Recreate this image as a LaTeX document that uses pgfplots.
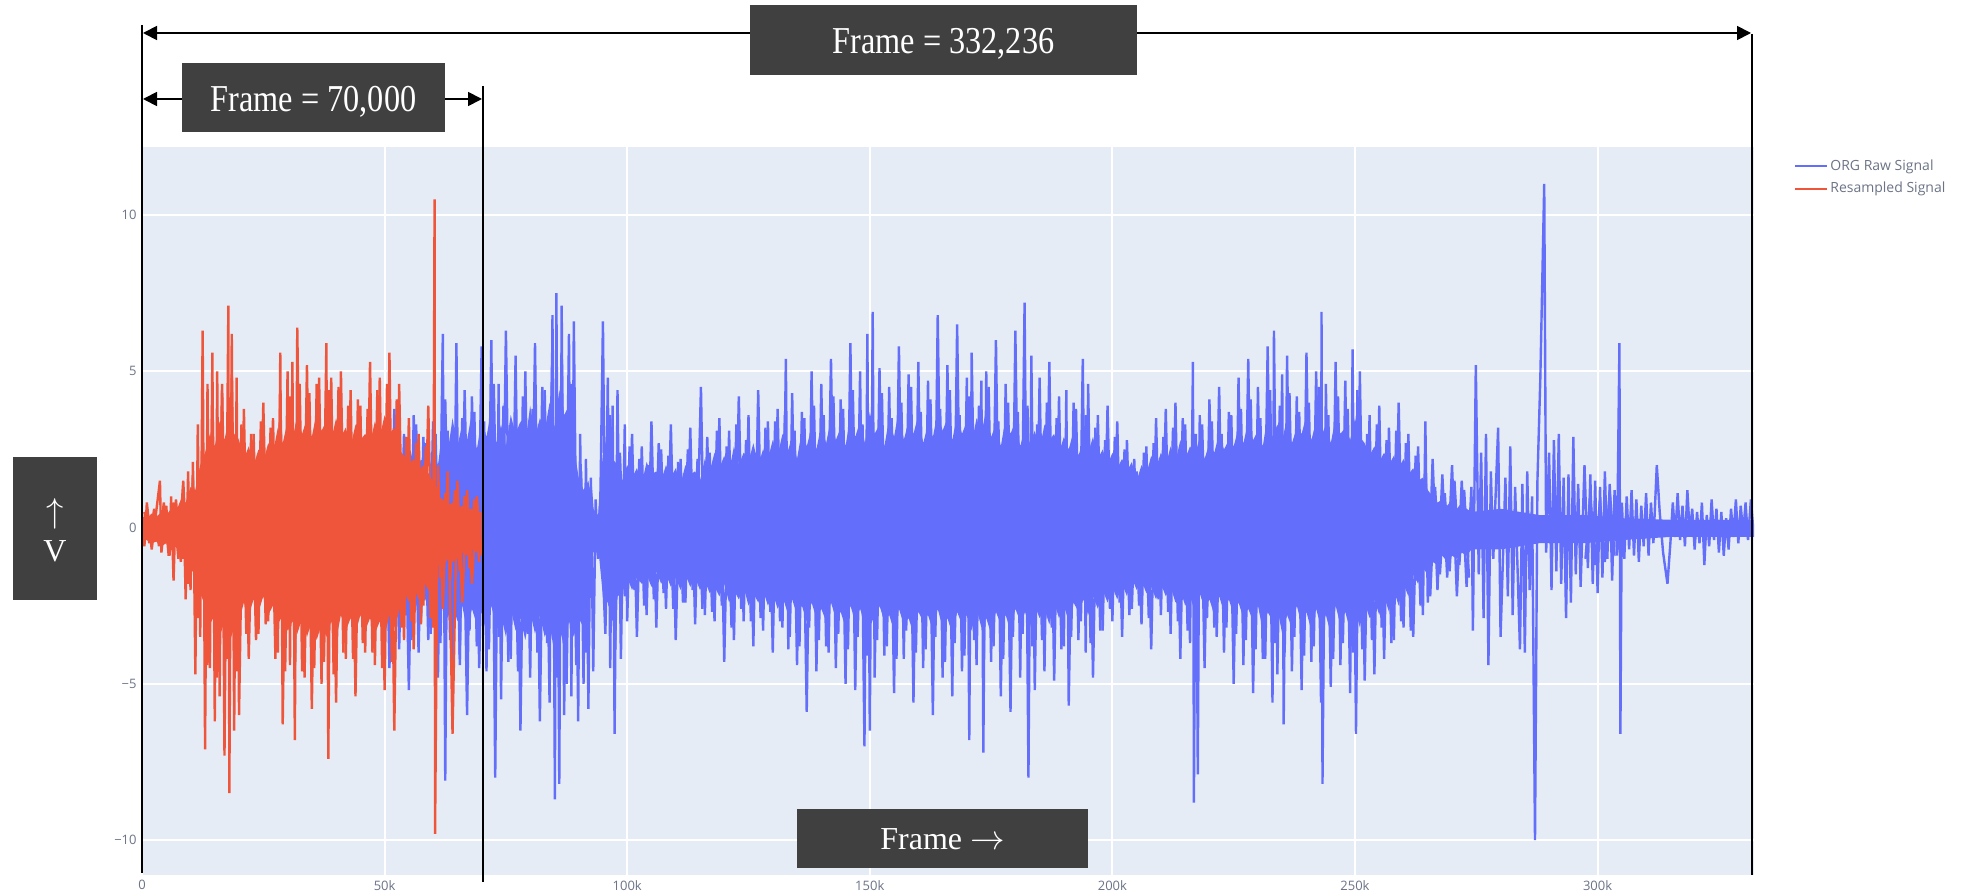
\documentclass[border=0pt]{standalone}
\usepackage{graphicx}
\usepackage{pgfplots}
\pgfplotsset{compat=1.18}
\usepackage{fontspec}
\setmainfont{Liberation Serif}
\newfontfamily\tickfont{Open Sans}
\usetikzlibrary{arrows.meta}
\definecolor{plotbg}{HTML}{E5ECF6}
\definecolor{sigblue}{HTML}{636EFA}
\definecolor{sigred}{HTML}{EF553B}
\definecolor{boxgray}{HTML}{404040}
\definecolor{tickgray}{HTML}{6B7385}
\begin{document}
\begin{tikzpicture}
\path[use as bounding box] (0,0) rectangle (986pt,-446.5pt);
\begin{axis}[
  at={(71pt,-437.5pt)}, anchor=south west,
  scale only axis, width=806pt, height=364pt,
  xmin=0, xmax=332.236, ymin=-11.12, ymax=12.18,
  axis background/.style={fill=plotbg},
  axis line style={draw=none},
  major tick length=0pt,
  grid=major, major grid style={white, line width=1pt},
  xtick={0,50,100,150,200,250,300},
  xticklabels={0,50k,100k,150k,200k,250k,300k},
  ytick={-10,-5,0,5,10},
  yticklabels={−10,−5,0,5,10},
  tick label style={font=\tickfont\fontsize{6.5}{7}\selectfont, text=tickgray},
  xticklabel style={anchor=north, inner sep=0pt, yshift=-2.5pt},
  yticklabel style={anchor=east, inner sep=0pt, xshift=-2.5pt},
  legend style={at={(1.0248,0.986)}, anchor=north west, draw=none, fill=none,
    inner sep=0pt, row sep=2.5pt,
    font=\tickfont\fontsize{7}{8}\selectfont, text=tickgray,
    nodes={inner sep=1pt}},
  legend cell align=left,
  legend image code/.code={\draw[#1,line width=1pt] (0pt,0pt) -- (16pt,0pt);},
  sig/.style={line width=1.2pt, line join=bevel},
]
% blue dense core
\addplot[fill=sigblue, draw=none, forget plot] coordinates {
(50,2.4)(51,1.8)(52,2.6)(53,2.0)(54,2.3)(55,1.9)(56,2.7)(57,2.1)(58,2.2)(59,1.7)(60,2.5)(61,2.0)(62,3.2)(63,2.4)(64,3.5)(65,2.6)(66,3.3)(67,2.8)(68,3.7)(69,2.5)
(70,3.4)(71,2.9)(72,3.8)(73,2.7)(74,3.3)(75,2.6)(76,3.6)(77,3.0)(78,3.4)(79,2.7)(80,3.9)(81,2.9)(82,3.5)(83,3.1)(84,4.0)(85,3.2)(86,4.4)(87,3.6)(88,3.9)(89,2.6)
(90,1.6)(91,1.2)(92,1.5)(93,0.6)(94,0.4)(95,2.4)(96,3.0)(97,2.2)(98,2.0)(99,1.5)(100,2.0)(101,1.6)(102,1.9)(103,1.4)(104,2.1)(105,1.7)(106,1.8)(107,1.5)(108,2.0)(109,1.6)
(110,1.9)(111,1.4)(112,2.0)(113,1.7)(114,1.8)(115,1.5)(116,2.2)(117,1.8)(118,2.4)(119,1.9)(120,2.3)(121,1.8)(122,2.6)(123,2.0)(124,2.4)(125,2.1)(126,2.7)(127,2.0)(128,2.5)(129,2.2)
(130,2.8)(131,2.3)(132,3.0)(133,2.4)(134,2.9)(135,2.2)(136,3.1)(137,2.6)(138,3.2)(139,2.5)(140,3.3)(141,2.7)(142,3.5)(143,2.8)(144,3.2)(145,2.6)(146,3.6)(147,2.9)(148,3.4)(149,2.7)
(150,3.7)(151,3.0)(152,3.3)(153,2.6)(154,3.5)(155,2.9)(156,3.8)(157,2.8)(158,3.4)(159,3.0)(160,3.6)(161,2.7)(162,3.3)(163,2.9)(164,3.7)(165,3.1)(166,3.5)(167,2.8)(168,3.6)(169,3.0)
(170,3.4)(171,2.7)(172,3.5)(173,3.0)(174,3.8)(175,2.9)(176,3.3)(177,2.6)(178,3.5)(179,3.0)(180,3.4)(181,2.6)(182,3.2)(183,2.7)(184,3.1)(185,2.5)(186,3.3)(187,2.8)(188,3.0)(189,2.4)
(190,2.9)(191,2.5)(192,3.1)(193,2.3)(194,2.8)(195,2.4)(196,2.9)(197,2.2)(198,2.5)(199,2.0)(200,2.4)(201,1.9)(202,2.2)(203,1.8)(204,2.1)(205,1.5)(206,2.0)(207,1.7)(208,2.3)(209,1.9)
(210,2.4)(211,2.0)(212,2.6)(213,2.1)(214,2.8)(215,2.2)(216,2.6)(217,2.3)(218,2.9)(219,2.2)(220,2.7)(221,2.4)(222,3.0)(223,2.5)(224,2.8)(225,2.6)(226,3.2)(227,2.7)(228,3.4)(229,2.8)
(230,3.1)(231,2.6)(232,3.6)(233,2.9)(234,3.3)(235,2.8)(236,3.5)(237,2.7)(238,3.2)(239,3.0)(240,3.6)(241,2.8)(242,3.4)(243,2.9)(244,3.3)(245,2.7)(246,3.5)(247,3.0)(248,3.2)(249,2.8)
(250,3.5)(251,2.9)(252,2.7)(253,2.3)(254,2.6)(255,2.1)(256,2.4)(257,2.0)(258,2.3)(259,1.9)(260,2.2)(261,1.7)(262,1.9)(263,1.5)(264,1.6)(265,1.2)(266,1.0)(267,0.8)(268,0.9)(269,0.7)
(270,0.9)(271,0.6)(272,0.8)(273,0.6)(274,0.5)(280,0.6)(288,0.4)(297,0.4)(305,0.3)(315,0.25)(332.2,0.25)
(332.2,-0.3)(315,-0.3)(305,-0.4)(297,-0.5)(288,-0.5)(280,-0.7)
(274,-0.7)(273,-0.9)(272,-0.8)(271,-1.0)(270,-0.9)(269,-1.1)(268,-0.9)(267,-1.2)(266,-1.1)(265,-1.5)(264,-1.3)(263,-1.8)(262,-1.5)(261,-2.2)(260,-1.8)(259,-2.5)(258,-2.0)(257,-2.7)(256,-2.2)(255,-2.8)
(254,-2.3)(253,-2.9)(252,-2.4)(251,-3.2)(250,-2.6)(249,-3.3)(248,-2.7)(247,-3.1)(246,-2.5)(245,-3.4)(244,-2.8)(243,-3.2)(242,-2.6)(241,-3.3)(240,-2.7)(239,-3.1)(238,-2.5)(237,-3.2)(236,-2.8)(235,-3.4)
(234,-2.6)(233,-3.0)(232,-2.7)(231,-3.3)(230,-2.5)(229,-3.0)(228,-2.6)(227,-2.9)(226,-2.4)(225,-2.8)(224,-2.3)(223,-2.7)(222,-2.2)(221,-2.8)(220,-2.3)(219,-2.6)(218,-2.1)(217,-2.7)(216,-2.2)(215,-2.5)
(214,-2.0)(213,-2.4)(212,-1.9)(211,-2.2)(210,-1.8)(209,-2.3)(208,-1.9)(207,-2.1)(206,-1.7)(205,-2.0)(204,-1.6)(203,-2.2)(202,-1.8)(201,-2.3)(200,-1.9)(199,-2.4)(198,-2.0)(197,-2.6)(196,-2.2)(195,-2.8)
(194,-2.3)(193,-2.7)(192,-2.4)(191,-3.0)(190,-2.5)(189,-2.9)(188,-2.4)(187,-3.1)(186,-2.6)(185,-2.9)(184,-2.5)(183,-3.2)(182,-2.7)(181,-3.0)(180,-2.6)(179,-3.3)(178,-2.8)(177,-3.1)(176,-2.7)(175,-3.4)
(174,-2.9)(173,-3.2)(172,-2.6)(171,-3.3)(170,-2.8)(169,-3.1)(168,-2.7)(167,-3.4)(166,-2.9)(165,-3.2)(164,-2.6)(163,-3.3)(162,-2.8)(161,-3.0)(160,-2.7)(159,-3.4)(158,-2.9)(157,-3.1)(156,-2.6)(155,-3.3)
(154,-2.8)(153,-3.0)(152,-2.5)(151,-3.2)(150,-2.7)(149,-3.1)(148,-2.6)(147,-3.0)(146,-2.5)(145,-3.2)(144,-2.7)(143,-2.9)(142,-2.4)(141,-3.0)(140,-2.6)(139,-2.9)(138,-2.4)(137,-3.0)(136,-2.5)(135,-2.8)
(134,-2.3)(133,-2.7)(132,-2.2)(131,-2.6)(130,-2.1)(129,-2.5)(128,-2.0)(127,-2.4)(126,-2.1)(125,-2.5)(124,-1.9)(123,-2.3)(122,-2.0)(121,-2.4)(120,-1.8)(119,-2.2)(118,-1.9)(117,-2.1)(116,-1.7)(115,-2.0)
(114,-1.6)(113,-1.9)(112,-1.5)(111,-2.0)(110,-1.6)(109,-1.9)(108,-1.5)(107,-1.8)(106,-1.4)(105,-1.9)(104,-1.5)(103,-1.8)(102,-1.6)(101,-2.0)(100,-1.6)(99,-2.1)(98,-2.2)(97,-3.0)(96,-2.4)(95,-2.2)
(94,-0.6)(93,-0.8)(92,-2.8)(91,-3.2)(90,-2.9)(89,-3.5)(88,-3.0)(87,-3.8)(86,-3.2)(85,-4.0)(84,-3.1)(83,-3.5)(82,-2.8)(81,-3.4)(80,-2.7)(79,-3.6)(78,-2.9)(77,-3.3)(76,-2.6)(75,-3.5)
(74,-2.8)(73,-3.2)(72,-2.5)(71,-3.4)(70,-2.7)(69,-3.1)(68,-2.6)(67,-3.3)(66,-2.5)(65,-3.0)(64,-2.4)(63,-2.9)(62,-2.3)(61,-2.8)(60,-2.2)(59,-2.6)(58,-2.1)(57,-2.7)(56,-2.2)(55,-2.9)
(54,-2.3)(53,-2.6)(52,-2.0)(51,-2.5)(50,-2.1)
} -- cycle;
% blue intermediate samples
\addplot[sigblue, sig, forget plot] coordinates {
(50.5,2.8)(51.5,-3.2)(52.5,3.1)(53.5,-2.6)(54.5,2.4)(55.5,-3.6)(56.5,3.3)(57.5,-2.9)(58.5,2.7)(59.5,-3.4)
(60.5,3.0)(61.5,-3.7)(62.5,4.1)(63.5,-3.6)(64.5,3.2)(65.5,-4.2)(66.5,4.4)(67.5,-3.3)(68.5,3.7)(69.5,-4.5)
(70.5,3.4)(71.5,-3.9)(72.5,4.6)(73.5,-3.5)(74.5,3.9)(75.5,-4.3)(76.5,3.2)(77.5,-4.6)(78.5,4.2)(79.5,-3.4)
(80.5,3.8)(81.5,-4.0)(82.5,4.5)(83.5,-3.7)(84.5,5.2)(85.5,-4.8)(86.5,5.6)(87.5,-5.0)(88.5,4.6)(89.5,-4.4)
(90.5,1.8)(91.5,-4.0)(92.5,1.3)(93.5,-0.8)(94.5,0.6)(95.5,-3.4)(96.5,3.6)(97.5,-3.9)(98.5,2.4)(99.5,-2.2)
(100.5,2.6)(101.5,-2.0)(102.5,2.2)(103.5,-2.5)(104.5,2.0)(105.5,-2.3)(106.5,2.7)(107.5,-2.1)(108.5,2.3)(109.5,-2.6)
(110.5,2.1)(111.5,-2.4)(112.5,2.5)(113.5,-2.0)(114.5,2.2)(115.5,-2.6)(116.5,2.9)(117.5,-2.7)(118.5,3.1)(119.5,-2.5)
(120.5,2.6)(121.5,-3.2)(122.5,3.3)(123.5,-2.6)(124.5,2.8)(125.5,-3.0)(126.5,2.4)(127.5,-2.9)(128.5,3.2)(129.5,-2.7)
(130.5,3.4)(131.5,-3.0)(132.5,3.6)(133.5,-3.5)(134.5,3.1)(135.5,-3.8)(136.5,3.5)(137.5,-3.2)(138.5,3.9)(139.5,-3.6)
(140.5,3.6)(141.5,-4.0)(142.5,4.2)(143.5,-3.4)(144.5,3.8)(145.5,-3.9)(146.5,4.4)(147.5,-3.5)(148.5,3.3)(149.5,-4.1)
(150.5,3.9)(151.5,-3.6)(152.5,4.3)(153.5,-3.8)(154.5,3.5)(155.5,-4.2)(156.5,4.0)(157.5,-3.3)(158.5,4.5)(159.5,-4.0)
(160.5,3.7)(161.5,-3.9)(162.5,4.1)(163.5,-3.5)(164.5,3.8)(165.5,-4.3)(166.5,4.4)(167.5,-3.7)(168.5,3.6)(169.5,-4.1)
(170.5,4.2)(171.5,-3.6)(172.5,3.9)(173.5,-4.0)(174.5,4.5)(175.5,-3.8)(176.5,3.4)(177.5,-4.2)(178.5,4.0)(179.5,-3.5)
(180.5,3.7)(181.5,-3.4)(182.5,3.9)(183.5,-3.8)(184.5,3.3)(185.5,-3.6)(186.5,4.0)(187.5,-3.2)(188.5,3.5)(189.5,-3.9)
(190.5,3.1)(191.5,-3.5)(192.5,3.8)(193.5,-3.0)(194.5,3.6)(195.5,-3.7)(196.5,3.2)(197.5,-3.3)(198.5,2.8)(199.5,-2.6)
(200.5,2.9)(201.5,-2.4)(202.5,2.5)(203.5,-2.8)(204.5,2.2)(205.5,-2.5)(206.5,2.4)(207.5,-2.9)(208.5,2.7)(209.5,-2.3)
(210.5,2.9)(211.5,-2.7)(212.5,3.2)(213.5,-3.0)(214.5,3.5)(215.5,-3.3)(216.5,2.9)(217.5,-3.6)(218.5,3.3)(219.5,-2.9)
(220.5,3.4)(221.5,-3.5)(222.5,3.0)(223.5,-3.2)(224.5,3.6)(225.5,-3.4)(226.5,3.8)(227.5,-3.6)(228.5,4.1)(229.5,-3.9)
(230.5,3.5)(231.5,-4.2)(232.5,4.4)(233.5,-3.7)(234.5,3.9)(235.5,-4.0)(236.5,4.3)(237.5,-3.5)(238.5,3.7)(239.5,-4.1)
(240.5,4.0)(241.5,-3.8)(242.5,4.5)(243.5,-3.6)(244.5,3.6)(245.5,-4.2)(246.5,4.2)(247.5,-3.7)(248.5,3.8)(249.5,-4.0)
(250.5,4.4)(251.5,-3.9)(252.5,3.0)(253.5,-3.6)(254.5,3.3)(255.5,-3.2)(256.5,2.8)(257.5,-3.7)(258.5,3.1)(259.5,-3.0)
(260.5,2.7)(261.5,-3.3)(262.5,2.3)(263.5,-2.5)(264.5,2.0)(265.5,-2.2)(266.5,1.3)(267.5,-1.5)(268.5,1.1)(269.5,-1.4)
(270.5,1.5)(271.5,-1.2)(272.5,1.2)(273.5,-1.6)
};
\addplot[sigblue, sig, forget plot] coordinates {
(297.5,-1.0)(298.5,1.1)(299.5,-1.2)(300.5,0.9)(301.5,-1.1)(302.5,1.2)(303.5,-0.9)
};
% blue raw signal
\addplot[sigblue, sig] coordinates {
(50,3.2)(51,-4.5)(52,3.8)(53,-3.9)(54,3.0)(55,-5.2)(56,3.6)(57,-4.0)(58,2.9)(59,-3.6)
(60,3.4)(61,-4.8)(62,6.2)(62.5,-8.1)(63,3.1)(64,-5.0)(64.8,5.9)(65.5,-4.4)(66,3.5)(67,-6.0)
(68,4.2)(69,-3.8)(70,5.8)(71,-4.6)(72,6.0)(72.8,-8.0)(73.5,4.6)(74,-5.5)(75,6.3)(76,-4.2)
(77,5.5)(78,-6.5)(79,5.0)(80,-4.8)(81,5.9)(82,-6.2)(83,4.4)(84,-5.6)(84.6,6.8)(85.1,-8.7)
(85.4,7.5)(86,-8.2)(86.5,7.1)(87,-6.0)(88,6.2)(88.5,-5.4)(89,6.6)(89.9,-6.2)(90.3,3.0)(91,-5.0)
(91.5,2.2)(92,-5.8)(92.5,1.6)(93,-4.6)(93.5,0.9)(94,-1.0)(94.5,1.2)(95,6.6)(95.5,-1.5)(96,4.8)
(96.5,-4.5)(97,3.9)(97.4,-6.6)(98,4.4)(98.7,-4.2)(99.5,3.3)(100,-3.0)(101,3.0)(102,-3.5)(103,2.6)
(104,-2.8)(105,3.4)(106,-3.2)(107,2.5)(108,-2.6)(109,3.3)(110,-3.6)(111,2.2)(112,-2.4)(113,3.2)
(114,-3.1)(115.2,4.5)(116,-2.8)(117,2.4)(118,-3.0)(119,3.5)(120,-4.3)(121,3.1)(122,-3.6)(123,4.2)
(124,-3.0)(125,3.6)(126,-3.8)(127,4.4)(128,-3.3)(129,3.4)(130,-4.0)(131,3.8)(132,-3.2)(132.7,5.4)
(133.2,-3.9)(134,4.3)(135,-4.4)(136,3.7)(137,-5.9)(138,5.0)(139,-4.6)(140,4.6)(141,-3.8)(142,5.4)
(143,-4.5)(144,4.1)(145,-5.0)(146,5.9)(147,-5.2)(148,5.0)(148.9,-7.0)(149.5,6.2)(150,-6.5)(150.6,6.9)
(151,-4.8)(152,5.1)(153,-4.1)(154,4.5)(155,-5.3)(156,5.8)(157,-4.2)(158,4.9)(159,-5.6)(160,5.3)
(161,-4.5)(162,4.7)(163,-6.0)(164,6.8)(165,-4.8)(166,5.2)(167,-5.4)(168,6.5)(169,-4.6)(170,4.8)
(170.5,-6.8)(171,5.6)(172,-4.4)(173,4.7)(173.4,-7.2)(174,5.0)(175,-4.3)(176,6.0)(177,-5.4)(178,4.6)
(179,-5.9)(180,6.3)(181,-4.8)(181.9,7.2)(182.7,-8.0)(183.3,5.5)(184,-5.2)(185,4.8)(186,-4.6)(187,5.3)
(188,-4.9)(189,4.2)(190,-3.8)(190.5,4.4)(191,-5.7)(192,4.0)(193,-3.6)(193.9,5.4)(194.5,-4.0)(195,4.6)
(196,-4.8)(197,3.6)(198,-3.3)(199,3.9)(200,-3.0)(201,3.4)(202,-3.5)(203,2.8)(204,-2.6)(205,1.8)
(206,-3.1)(207,2.6)(208,-3.9)(209,3.5)(210,-2.8)(211,3.8)(212,-3.4)(213,4.0)(214,-4.2)(215,3.3)
(216,-3.7)(216.6,5.3)(216.8,-8.8)(217.2,3.0)(217.6,-7.9)(218,3.6)(219,-4.5)(220,4.1)(221,-3.2)(222,4.5)
(223,-4.0)(224,3.7)(225,-5.0)(226,4.8)(227,-4.4)(228,5.4)(229,-5.3)(230,4.5)(231,-4.2)(232,5.8)
(233,-5.6)(233.3,6.3)(234,-4.7)(235,4.9)(235.3,-6.3)(236,5.5)(237,-4.6)(238,4.2)(239,-5.2)(240,5.6)
(241,-4.3)(242,5.0)(243,-5.6)(243.1,6.9)(243.3,-8.2)(244,4.6)(245,-5.1)(246,5.3)(247,-4.4)(248,4.7)
(249,-5.3)(249.5,5.7)(250.2,-6.6)(251,5.0)(252,-4.9)(253,3.6)(254,-4.7)(255,3.9)(256,-4.2)(257,3.2)
(258,-3.6)(259,4.0)(260,-3.2)(261,3.0)(262,-3.5)(263,2.6)(264,-2.8)(264.5,3.4)(265,-2.4)(266,2.2)
(267,-2.0)(268,1.7)(269,-1.6)(270,2.0)(271,-2.2)(272,1.5)(273,-1.9)(274,1.3)(274.3,-3.3)(274.9,5.2)
(275.5,-1.5)(276,2.4)(276.5,-2.9)(277,3.0)(277.5,-4.4)(278,1.8)(278.5,-1.0)(279.5,3.2)(280,-3.5)(281,1.6)
(281.5,-2.2)(282,2.6)(282.5,-2.8)(283,1.3)(284,-3.9)(284.5,1.4)(285,-4.0)(285.5,1.8)(286,-2.0)(286.5,1.0)
(287.1,-10.0)(287.6,1.5)(288.2,4.8)(289.0,11.0)(289.4,-0.8)(290,2.4)(290.5,-2.0)(291,2.8)(291.5,-1.4)(292,3.0)
(292.5,-1.8)(293,1.6)(293.5,-2.9)(294,1.7)(294.5,-2.4)(295,2.9)(295.5,-1.5)(296,1.4)(296.5,-1.9)(297.3,2.0)
(298,-1.3)(298.5,1.7)(299,-1.8)(299.5,1.5)(300,-2.1)(300.5,1.3)(301,-1.6)(301.5,1.8)(302,-1.0)(302.5,1.4)
(303,-1.7)(303.5,1.2)(304,-0.9)(304.5,5.9)(304.7,-6.6)(305,0.8)(305.5,-1.0)(306,1.0)(306.5,-0.7)(307,1.2)
(307.5,-0.9)(308,0.9)(308.5,-1.1)(309,0.7)(309.5,-0.6)(310,1.1)(310.5,-0.9)(311,0.8)(311.5,-0.5)(312.2,2.0)
(312.8,0.5)(313.5,-0.8)(314.4,-1.8)(315,-0.5)(315.5,0.8)(316,-0.3)(316.5,1.1)(317,-0.4)(317.5,0.7)(318,-0.6)
(318.5,1.2)(319,-0.2)(319.5,0.6)(320,-0.7)(320.5,0.5)(321,-0.5)(321.5,0.8)(322,-1.2)(322.5,0.4)(323,-0.6)
(323.5,0.9)(324,-0.4)(324.5,0.6)(325,-0.8)(325.5,0.5)(326,-0.9)(326.5,0.3)(327,-0.7)(327.5,0.6)(328,-0.3)
(328.5,0.9)(329,-0.5)(329.5,0.7)(330,-0.2)(330.5,0.8)(331,-0.4)(331.6,0.9)(332.2,-0.3)
};
\addlegendentry{ORG Raw Signal}
% red dense core
\addplot[fill=sigred, draw=none, forget plot] coordinates {
(0,0.35)(1,0.3)(2,0.45)(3,0.35)(4,0.5)(5,0.4)(6,0.6)(7,0.5)(8,0.9)(9,0.8)(10,1.3)(11,1.2)(12,2.0)(13,2.4)(14,3.0)(15,2.6)(16,3.4)(17,2.8)(18,3.6)(19,3.0)
(20,2.8)(21,2.2)(22,2.6)(23,2.0)(24,2.5)(25,2.1)(26,2.7)(27,2.4)(28,3.2)(29,2.7)(30,3.4)(31,2.8)(32,3.6)(33,3.0)(34,3.5)(35,2.9)(36,3.7)(37,3.1)(38,3.4)(39,2.8)
(40,3.5)(41,2.9)(42,3.2)(43,2.6)(44,3.3)(45,2.8)(46,3.0)(47,2.7)(48,3.4)(49,2.9)(50,3.6)(51,3.0)(52,3.2)(53,2.5)(54,2.3)(55,2.0)(56,2.2)(57,1.8)(58,2.0)(59,1.7)
(60,1.5)(61,1.0)(62,0.9)(63,0.7)(64,0.8)(65,0.6)(66,0.7)(67,0.6)(68,0.6)(69,0.5)(70,0.5)
(70,-0.7)(69,-0.8)(68,-0.7)(67,-0.9)(66,-0.8)(65,-1.0)(64,-1.1)(63,-1.0)(62,-1.3)(61,-1.2)(60,-1.8)(59,-2.0)(58,-1.7)(57,-2.3)(56,-1.9)(55,-2.4)(54,-2.0)(53,-2.7)(52,-3.2)(51,-2.8)
(50,-3.5)(49,-3.0)(48,-3.4)(47,-2.9)(46,-3.3)(45,-2.8)(44,-3.4)(43,-2.9)(42,-3.3)(41,-2.8)(40,-3.6)(39,-3.0)(38,-3.5)(37,-3.1)(36,-3.6)(35,-3.0)(34,-3.5)(33,-2.9)(32,-3.4)(31,-3.0)
(30,-3.3)(29,-2.8)(28,-3.1)(27,-2.5)(26,-2.8)(25,-2.2)(24,-2.7)(23,-2.3)(22,-2.8)(21,-2.4)(20,-3.0)(19,-3.2)(18,-3.7)(17,-3.0)(16,-3.5)(15,-2.8)(14,-3.1)(13,-2.5)(12,-2.1)(11,-1.4)
(10,-1.4)(9,-1.0)(8,-1.0)(7,-0.6)(6,-0.7)(5,-0.5)(4,-0.6)(3,-0.45)(2,-0.5)(1,-0.4)(0,-0.4)
} -- cycle;
% red intermediate samples
\addplot[sigred, sig, forget plot] coordinates {
(0.5,0.5)(1.5,-0.5)(2.5,0.6)(3.5,-0.6)(4.5,0.8)(5.5,-0.9)(6.5,0.8)(7.5,-1.0)(8.5,1.5)(9.5,-1.8)
(10.5,1.6)(11.5,-2.9)(12.5,2.8)(13.5,-4.4)(14.5,4.2)(15.5,-4.8)(16.5,4.6)(17.5,-4.2)(18.5,4.9)(19.5,-4.6)
(20.5,3.3)(21.5,-3.4)(22.5,3.0)(23.5,-3.6)(24.5,3.4)(25.5,-3.1)(26.5,3.2)(27.5,-4.2)(28.5,4.4)(29.5,-4.6)
(30.5,4.2)(31.5,-4.4)(32.5,4.6)(33.5,-4.8)(34.5,4.3)(35.5,-4.5)(36.5,4.8)(37.5,-4.3)(38.5,4.4)(39.5,-4.7)
(40.5,4.5)(41.5,-4.0)(42.5,3.9)(43.5,-4.2)(44.5,4.1)(45.5,-3.7)(46.5,3.8)(47.5,-4.0)(48.5,4.4)(49.5,-4.5)
(50.5,4.6)(51.5,-4.3)(52.5,4.1)(53.5,-3.2)(54.5,2.9)(55.5,-3.0)(56.5,2.7)(57.5,-3.1)(58.5,2.6)(59.5,-2.9)
(60.5,1.3)(61.5,-1.6)(62.5,1.1)(63.5,-1.7)(64.5,1.2)(65.5,-1.4)(66.5,1.0)(67.5,-1.3)(68.5,0.9)(69.5,-1.1)
};
% red resampled signal
\addplot[sigred, sig] coordinates {
(0,0.4)(0.5,-0.6)(1,0.8)(2,-0.7)(3,0.6)(3.7,1.5)(4,-0.8)(5,0.7)(5.7,-0.9)(6,1.0)
(6.5,-1.7)(7,0.9)(8,-1.1)(8.5,1.3)(9,-2.3)(9.5,1.8)(10,-2.0)(10.5,2.1)(11,-4.7)(11.5,3.3)
(12,-3.5)(12.5,6.3)(13,-7.1)(13.5,4.6)(14,-4.5)(14.5,5.6)(15,-6.2)(15.5,5.0)(16,-5.4)(16.5,4.3)
(17,-7.3)(17.8,7.1)(18,-8.5)(18.5,6.2)(19,-6.5)(19.5,4.8)(20,-6.0)(21,3.8)(22,-4.2)(23,3.0)
(24,-3.4)(25,4.0)(26,-3.0)(27,3.5)(28,-4.0)(28.5,5.6)(29,-6.3)(30,5.0)(30.5,-4.4)(31,5.3)
(31.5,-6.8)(32,6.4)(33,-4.6)(34,5.2)(35,-5.8)(36,4.6)(37,-5.0)(38,5.9)(38.4,-7.4)(39,4.8)
(40,-5.6)(41,5.0)(42,-4.2)(43,4.4)(44,-5.4)(45,3.9)(46,-4.0)(47,5.3)(48,-4.4)(49,4.8)
(50,-5.2)(51,5.6)(52,-6.5)(53,4.6)(54,-3.6)(55,3.5)(56,-3.9)(57,3.0)(58,-2.5)(59,3.9)
(60,-3.2)(60.3,10.5)(60.4,-9.8)(61,2.0)(62,-2.6)(63,1.8)(64,-6.6)(65,1.5)(66,-2.4)(67,1.2)
(68,-1.8)(69,1.0)(70,-0.9)
};
\addlegendentry{Resampled Signal}
\end{axis}
\begin{scope}[x=0.5pt,y=-0.5pt]
\draw[line width=1.1pt] (142,25) -- (142,873);
\draw[line width=1.1pt] (483,86) -- (483,882);
\draw[line width=1.1pt] (1752,34) -- (1752,875);
\draw[line width=0.9pt, {Triangle[length=7pt,width=7pt]}-{Triangle[length=7pt,width=7pt]}] (143,33) -- (1751,33);
\draw[line width=0.9pt, {Triangle[length=7pt,width=7pt]}-{Triangle[length=7pt,width=7pt]}] (143,99) -- (482,99);
\fill[boxgray] (750,5) rectangle (1137,75);
\node[text=white, inner sep=0pt, font=\fontsize{19}{22}\selectfont] at (943.5,43.5) {\scalebox{0.85}[1]{Frame = 332,236}};
\fill[boxgray] (182,63) rectangle (445,132);
\node[text=white, inner sep=0pt, font=\fontsize{19}{22}\selectfont] at (313.5,101.5) {\scalebox{0.85}[1]{Frame = 70,000}};
\fill[boxgray] (13,457) rectangle (97,600);
\node[text=white, inner sep=0pt, align=center, font=\fontsize{16}{19.5}\selectfont] at (55,530) {$\uparrow$\\V};
\fill[boxgray] (797,809) rectangle (1088,868);
\node[text=white, inner sep=0pt, font=\fontsize{16}{19}\selectfont] at (942.5,839) {Frame $\rightarrow$};
\end{scope}
\end{tikzpicture}
\end{document}
